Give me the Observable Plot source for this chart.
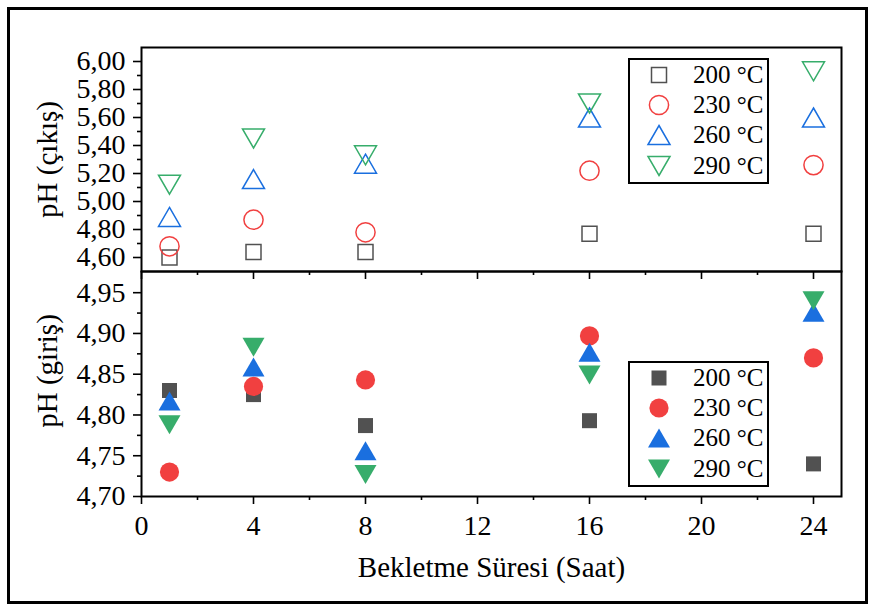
<!DOCTYPE html>
<html>
<head>
<meta charset="utf-8">
<script src="https://cdn.jsdelivr.net/npm/d3@7"></script>
<script src="https://cdn.jsdelivr.net/npm/@observablehq/plot@0.6"></script>
<style>
  html, body { margin: 0; padding: 0; background: #fff; }
  #wrap { position: relative; width: 870px; height: 606px; overflow: hidden;
          font-family: "Liberation Serif", "Times New Roman", serif; background: #fff; }
  #wrap svg { position: absolute; left: 0; top: 0; }
  #wrap svg text { font-family: "Liberation Serif", "Times New Roman", serif; font-variant: normal; }
  #frame { position: absolute; left: 7px; top: 7px; width: 861px; height: 597px;
           box-sizing: border-box; border: 3px solid #000; pointer-events: none; }
  .legend { position: absolute; box-sizing: border-box; border: 2px solid #000;
            background: #fff; width: 141px; height: 126px; }
  .legend .sym { position: absolute; width: 30px; height: 30px; }
  .legend .lab { position: absolute; font-size: 25px; line-height: 30px; height: 30px;
                 white-space: nowrap; color: #000; }
</style>
</head>
<body>
<div id="wrap"><div id="frame"></div></div>
<script>
// ---- data ----
const hours = [1, 4, 8, 16, 24];
const seriesNames = ["200 °C", "230 °C", "260 °C", "290 °C"];
const seriesColors = ["#515151", "#F14040", "#1A6FDF", "#37AD6B"];

// pH (çıkış) – outlet
const outlet200 = [4.60, 4.64, 4.64, 4.77, 4.77];
const outlet230 = [4.68, 4.87, 4.78, 5.22, 5.26];
const outlet260 = [4.89, 5.16, 5.27, 5.60, 5.60];
const outlet290 = [5.12, 5.45, 5.33, 5.70, 5.93];

// pH (giriş) – inlet
const inlet200 = [4.830, 4.825, 4.787, 4.793, 4.740];
const inlet230 = [4.730, 4.835, 4.843, 4.897, 4.870];
const inlet260 = [4.817, 4.859, 4.756, 4.877, 4.926];
const inlet290 = [4.788, 4.883, 4.727, 4.849, 4.940];

const xTicks = [0, 4, 8, 12, 16, 20, 24];
const xMinorTicks = [2, 6, 10, 14, 18, 22];
const yTopTicks = [4.6, 4.8, 5.0, 5.2, 5.4, 5.6, 5.8, 6.0];
const yTopMinorTicks = [4.7, 4.9, 5.1, 5.3, 5.5, 5.7, 5.9];
const yBotTicks = [4.70, 4.75, 4.80, 4.85, 4.90, 4.95];
const yBotMinorTicks = [4.725, 4.775, 4.825, 4.875, 4.925];

const xTitle = "Bekletme Süresi (Saat)";
const yTopTitle = "pH (çıkış)";
const yBotTitle = "pH (giriş)";

const outletSeries = [outlet200, outlet230, outlet260, outlet290];
const inletSeries = [inlet200, inlet230, inlet260, inlet290];

// ---- symbols (fixed pixel geometry, centred on bounding box) ----
const symSquare = { draw(c) { const h = 7.5; c.moveTo(-h, -h); c.lineTo(h, -h); c.lineTo(h, h); c.lineTo(-h, h); c.closePath(); } };
const symCircle = { draw(c) { const r = 9.6; c.moveTo(r, 0); c.arc(0, 0, r, 0, 2 * Math.PI); c.closePath(); } };
const symUp = { draw(c) { c.moveTo(0, -9.5); c.lineTo(11, 9.5); c.lineTo(-11, 9.5); c.closePath(); } };
const symDown = { draw(c) { c.moveTo(0, 9.5); c.lineTo(11, -9.5); c.lineTo(-11, -9.5); c.closePath(); } };
const symbols = [symSquare, symCircle, symUp, symDown];

const fmt2 = d => d.toFixed(2).replace(".", ",");
const font = '"Liberation Serif", "Times New Roman", serif';
const W = 870, H = 606;
const left = 141, right = 29;

function panel({yDomain, top, bottom, ticks, minor, fmt, showXLabels, series, filled, title, titleDy}) {
  const marks = [
    Plot.frame({stroke: "#000", strokeWidth: 2}),
    Plot.axisY(ticks, {anchor: "left", tickSize: 8, tickPadding: 8, tickFormat: fmt, label: null, strokeWidth: 1.6, fontSize: 28, fontFamily: font, fontVariant: "normal"}),
    Plot.axisY(minor, {anchor: "left", tickSize: 4, tickFormat: () => "", label: null, strokeWidth: 1.6}),
    Plot.axisX(xTicks, {anchor: "bottom", tickSize: 8, tickPadding: 11, tickFormat: showXLabels ? (d => String(d)) : (() => ""), label: null, strokeWidth: 1.6, fontSize: 28, fontFamily: font, fontVariant: "normal"}),
    Plot.axisX(xMinorTicks, {anchor: "bottom", tickSize: 4, tickFormat: () => "", label: null, strokeWidth: 1.6}),
  ];
  series.forEach((vals, i) => {
    marks.push(Plot.dot(hours, {
      x: hours, y: vals, symbol: symbols[i],
      ...(filled ? {fill: seriesColors[i], stroke: "none"} : {fill: "none", stroke: seriesColors[i], strokeWidth: 1.5})
    }));
  });
  marks.push(Plot.text([title], {text: d => d, frameAnchor: "left", textAnchor: "middle", lineAnchor: "middle",
    rotate: -90, dx: -94, dy: titleDy, fontSize: 29, fontFamily: font, fill: "#000"}));
  if (showXLabels) {
    marks.push(Plot.text([xTitle], {text: d => d, frameAnchor: "bottom", dy: 80, fontSize: 29, fontFamily: font, fill: "#000"}));
  }
  return Plot.plot({
    width: W, height: H,
    marginLeft: left, marginRight: right, marginTop: top, marginBottom: H - bottom,
    x: {domain: [0, 25]},
    y: {domain: yDomain},
    style: {fontFamily: font, fontSize: "28px", color: "#000", background: "transparent", overflow: "visible"},
    marks
  });
}

const wrap = document.getElementById("wrap");
const frame = document.getElementById("frame");

const bottomPlot = panel({yDomain: [4.70, 4.976], top: 271, bottom: 496, ticks: yBotTicks, minor: yBotMinorTicks,
  fmt: fmt2, showXLabels: true, series: inletSeries, filled: true, title: yBotTitle, titleDy: -13});
const topPlot = panel({yDomain: [4.5, 6.1], top: 47, bottom: 271, ticks: yTopTicks, minor: yTopMinorTicks,
  fmt: fmt2, showXLabels: false, series: outletSeries, filled: false, title: yTopTitle, titleDy: 0});
wrap.insertBefore(bottomPlot, frame);
wrap.insertBefore(topPlot, frame);

// force serif font on every text element (inline style wins over inherited/attribute styles)
d3.selectAll("#wrap svg text, #wrap svg tspan")
  .style("font-family", font)
  .style("font-variant", "normal");

// ---- legends ----
function legend(x, y, filled) {
  const box = document.createElement("div");
  box.className = "legend";
  box.style.left = x + "px";
  box.style.top = y + "px";
  seriesNames.forEach((name, i) => {
    const cy = 15.5 + i * 30.2;
    const s = d3.create("svg").attr("class", "sym").attr("width", 30).attr("height", 30)
      .attr("viewBox", "-15 -15 30 30").style("left", (29.6 - 15) + "px").style("top", (cy - 15) + "px")
      .style("overflow", "visible");
    s.append("path").attr("d", d3.symbol(symbols[i])())
      .attr("fill", filled ? seriesColors[i] : "none")
      .attr("stroke", filled ? "none" : seriesColors[i])
      .attr("stroke-width", 1.5);
    box.appendChild(s.node());
    const t = document.createElement("div");
    t.className = "lab";
    t.textContent = name;
    t.style.left = "63.6px";
    t.style.top = (cy - 15) + "px";
    box.appendChild(t);
  });
  wrap.appendChild(box);
}
legend(627.5, 57.5, false);
legend(627.5, 360.5, true);
</script>
</body>
</html>
